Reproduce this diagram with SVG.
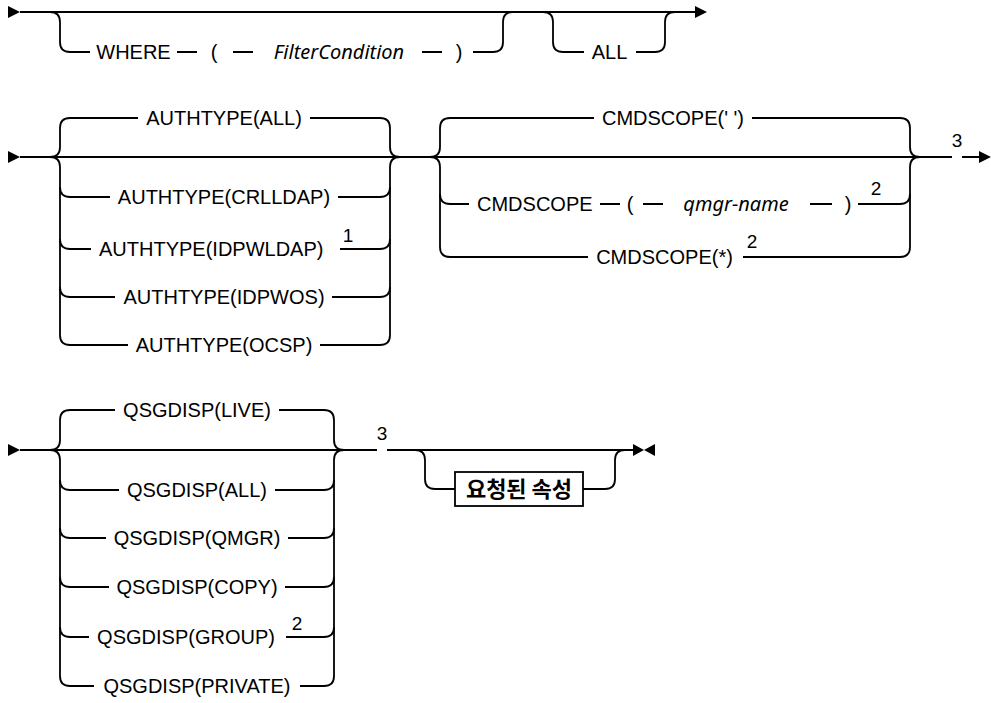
<svg xmlns="http://www.w3.org/2000/svg" width="991" height="703" viewBox="0 0 991 703">
<style>
.ln{fill:none;stroke:#000;stroke-width:1.8;stroke-linecap:butt;}
.t{font-family:"Liberation Sans",Arial,sans-serif;font-size:20px;fill:#000;text-anchor:middle;}
.s{text-anchor:start;}
.v{font-family:"Noto Sans","Liberation Sans",sans-serif;font-style:italic;font-size:20px;fill:#000;text-anchor:middle;}
.n{font-family:"Liberation Sans",Arial,sans-serif;font-size:19px;fill:#000;text-anchor:middle;}
.k{font-family:"Noto Sans CJK KR",sans-serif;font-weight:bold;font-size:22px;fill:#000;text-anchor:middle;}
.ar{fill:#000;}
.box{fill:#fff;stroke:#000;stroke-width:1.8;}
</style>
<rect width="991" height="703" fill="#fff"/>
<g id="connectors">
  <!-- Row 1 -->
  <polygon class="ar" points="8,6 20,12 8,18"/>
  <path class="ln" d="M20,12 H695"/>
  <polygon class="ar" points="695,6 707,12 695,18"/>
  <path class="ln" d="M50,12 Q60,12 60,22 V42 Q60,52 70,52 H90"/>
  <path class="ln" d="M177,52 H197 M233,52 H253 M422,52 H442"/>
  <path class="ln" d="M473,52 H493 Q503,52 503,42 V22 Q503,12 513,12"/>
  <path class="ln" d="M543,12 Q553,12 553,22 V42 Q553,52 563,52 H584"/>
  <path class="ln" d="M636,52 H655 Q665,52 665,42 V22 Q665,12 675,12"/>
  <!-- Row 2 -->
  <polygon class="ar" points="8,151 20,157 8,163"/>
  <path class="ln" d="M20,157 H952 M962,157 H979"/>
  <polygon class="ar" points="979,151 991,157 979,163"/>
  <!-- AUTHTYPE block -->
  <path class="ln" d="M50,157 Q60,157 60,147 V128 Q60,118 70,118 H138"/>
  <path class="ln" d="M310,118 H380 Q390,118 390,128 V147 Q390,157 400,157"/>
  <path class="ln" d="M50,157 Q60,157 60,167 V335 Q60,345 70,345 H128"/>
  <path class="ln" d="M320,345 H380 Q390,345 390,335 V167 Q390,157 400,157"/>
  <path class="ln" d="M60,187 Q60,197 70,197 H110 M338,197 H380 Q390,197 390,187"/>
  <path class="ln" d="M60,239 Q60,249 70,249 H91 M340,249 H380 Q390,249 390,239"/>
  <path class="ln" d="M60,287 Q60,297 70,297 H115 M332,297 H380 Q390,297 390,287"/>
  <!-- CMDSCOPE block -->
  <path class="ln" d="M430,157 Q440,157 440,147 V128 Q440,118 450,118 H594"/>
  <path class="ln" d="M752,118 H900 Q910,118 910,128 V147 Q910,157 920,157"/>
  <path class="ln" d="M430,157 Q440,157 440,167 V247 Q440,257 450,257 H588"/>
  <path class="ln" d="M743,257 H900 Q910,257 910,247 V167 Q910,157 920,157"/>
  <path class="ln" d="M440,194 Q440,204 450,204 H469 M600,204 H620 M643,204 H663 M810,204 H832 M858,204 H900 Q910,204 910,194"/>
  <!-- Row 3 -->
  <polygon class="ar" points="8,444 20,450 8,456"/>
  <path class="ln" d="M20,450 H377 M387,450 H633"/>
  <polygon class="ar" points="633,444 644,450 633,456"/>
  <polygon class="ar" points="655,444 644,450 655,456"/>
  <!-- QSGDISP block -->
  <path class="ln" d="M50,450 Q60,450 60,440 V420 Q60,410 70,410 H115"/>
  <path class="ln" d="M279,410 H324 Q334,410 334,420 V440 Q334,450 344,450"/>
  <path class="ln" d="M50,450 Q60,450 60,460 V676 Q60,686 70,686 H94"/>
  <path class="ln" d="M300,686 H324 Q334,686 334,676 V460 Q334,450 344,450"/>
  <path class="ln" d="M60,480 Q60,490 70,490 H119 M275,490 H324 Q334,490 334,480"/>
  <path class="ln" d="M60,528 Q60,538 70,538 H106 M288,538 H324 Q334,538 334,528"/>
  <path class="ln" d="M60,577 Q60,587 70,587 H109 M285,587 H324 Q334,587 334,577"/>
  <path class="ln" d="M60,627 Q60,637 70,637 H89 M286,637 H324 Q334,637 334,627"/>
  <!-- optional attributes -->
  <path class="ln" d="M415,450 Q425,450 425,460 V479 Q425,489 435,489 H455"/>
  <path class="ln" d="M583,489 H605 Q615,489 615,479 V460 Q615,450 625,450"/>
</g>
<g id="where">
  <text class="t" x="133.5" y="59">WHERE</text>
  <text class="t" x="214" y="59">(</text>
  <text class="v" x="339" y="59">FilterCondition</text>
  <text class="t" x="459" y="59">)</text>
</g>
<g id="all"><text class="t" x="609.5" y="59">ALL</text></g>
<g id="authtype-all"><text class="t" x="224" y="125">AUTHTYPE(ALL)</text></g>
<g id="authtype-crlldap"><text class="t" x="224" y="204">AUTHTYPE(CRLLDAP)</text></g>
<g id="authtype-idpwldap"><text class="t s" x="99" y="256">AUTHTYPE(IDPWLDAP)</text><text class="n" x="348" y="242">1</text></g>
<g id="authtype-idpwos"><text class="t" x="224" y="304">AUTHTYPE(IDPWOS)</text></g>
<g id="authtype-ocsp"><text class="t" x="224" y="352">AUTHTYPE(OCSP)</text></g>
<g id="cmdscope-blank"><text class="t" x="673" y="125">CMDSCOPE(' ')</text></g>
<g id="cmdscope-qmgr">
  <text class="t s" x="477" y="211">CMDSCOPE</text>
  <text class="t" x="630" y="211">(</text>
  <text class="v" x="736" y="211">qmgr-name</text>
  <text class="t" x="848" y="211">)</text>
  <text class="n" x="876" y="195">2</text>
</g>
<g id="cmdscope-star"><text class="t" x="664.5" y="264">CMDSCOPE(*)</text><text class="n" x="752" y="248">2</text></g>
<g id="note3-row2"><text class="n" x="957" y="147">3</text></g>
<g id="qsgdisp-live"><text class="t" x="197" y="417">QSGDISP(LIVE)</text></g>
<g id="qsgdisp-all"><text class="t" x="197" y="497">QSGDISP(ALL)</text></g>
<g id="qsgdisp-qmgr"><text class="t" x="197" y="545">QSGDISP(QMGR)</text></g>
<g id="qsgdisp-copy"><text class="t" x="197" y="594">QSGDISP(COPY)</text></g>
<g id="qsgdisp-group"><text class="t" x="186" y="644">QSGDISP(GROUP)</text><text class="n" x="297" y="630">2</text></g>
<g id="qsgdisp-private"><text class="t" x="197" y="693">QSGDISP(PRIVATE)</text></g>
<g id="note3-row3"><text class="n" x="382" y="440">3</text></g>
<g id="requested-attrs">
  <rect class="box" x="455" y="472" width="128" height="34"/>
  <text class="k" x="519" y="497">요청된 속성</text>
</g>
</svg>
